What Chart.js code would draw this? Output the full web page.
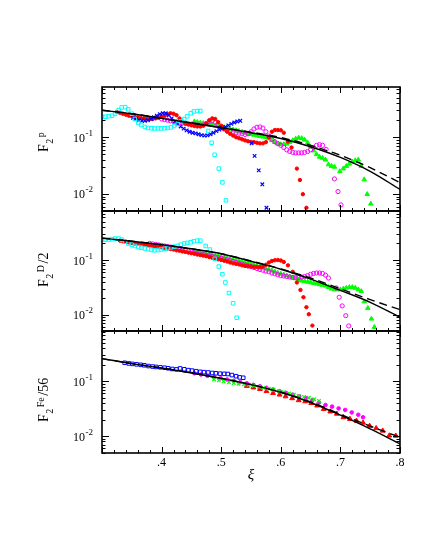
<!DOCTYPE html>
<html>
<head>
<meta charset="utf-8">
<script src="https://cdn.jsdelivr.net/npm/chart.js@4/dist/chart.umd.min.js"></script>
<style>
html,body{margin:0;padding:0;background:#fff;}
canvas{display:block;}
</style>
</head>
<body>
<canvas id="c" width="447" height="545"></canvas>
<script>
// ---------- tick labels ----------
const xTickValues = [0.4, 0.5, 0.6, 0.7, 0.8];
const xTickLabels = ['.4', '.5', '.6', '.7', '.8'];
const yTickValues = [0.1, 0.01];
const yTickExponents = ['-1', '-2'];
const panelLabels = [
  { main: 'F', sub: '2', sup: 'p', tail: '' },
  { main: 'F', sub: '2', sup: 'D', tail: '/2' },
  { main: 'F', sub: '2', sup: 'Fe', tail: '/56' }
];

// ---------- model curves (xi grid) ----------
const curveXi = [0.30, 0.35, 0.40, 0.45, 0.50, 0.55, 0.60, 0.65, 0.70, 0.75, 0.80];
const pSolid  = [0.30, 0.26, 0.215, 0.178, 0.147, 0.120, 0.095, 0.068, 0.044, 0.025, 0.012];
const pDashed = [0.30, 0.26, 0.215, 0.179, 0.149, 0.123, 0.099, 0.072, 0.048, 0.029, 0.0158];
const dSolid  = [0.25, 0.22, 0.19, 0.16, 0.13, 0.095, 0.068, 0.045, 0.028, 0.017, 0.0091];
const dDashed = [0.25, 0.22, 0.19, 0.16, 0.13, 0.096, 0.069, 0.047, 0.030, 0.019, 0.0125];
const feSolid  = [0.26, 0.21, 0.175, 0.142, 0.113, 0.087, 0.063, 0.041, 0.024, 0.0135, 0.0072];
const feDashed = [0.26, 0.21, 0.175, 0.142, 0.113, 0.087, 0.063, 0.042, 0.025, 0.0152, 0.0095];

// ---------- proton data [xi, F2] ----------
const pCyan = [[0.300,0.23],[0.306,0.23],[0.311,0.235],[0.317,0.24],[0.322,0.26],[0.328,0.30],[0.333,0.335],[0.339,0.34],[0.344,0.31],[0.350,0.26],[0.355,0.21],[0.361,0.18],[0.366,0.165],[0.372,0.152],[0.377,0.146],[0.383,0.144],[0.388,0.143],[0.394,0.143],[0.399,0.143],[0.405,0.144],[0.410,0.146],[0.416,0.149],[0.421,0.158],[0.427,0.172],[0.432,0.19],[0.438,0.21],[0.443,0.235],[0.449,0.265],[0.454,0.285],[0.460,0.29],[0.465,0.29],[0.478,0.129],[0.484,0.08],[0.489,0.049],[0.496,0.028],[0.502,0.016],[0.508,0.0077]];
const pBlue = [[0.352,0.22],[0.357,0.21],[0.362,0.20],[0.367,0.195],[0.372,0.195],[0.377,0.20],[0.382,0.21],[0.387,0.225],[0.392,0.24],[0.397,0.255],[0.402,0.265],[0.407,0.265],[0.412,0.245],[0.417,0.215],[0.422,0.19],[0.427,0.17],[0.432,0.155],[0.437,0.142],[0.442,0.132],[0.447,0.125],[0.452,0.12],[0.457,0.117],[0.462,0.113],[0.467,0.109],[0.472,0.107],[0.477,0.108],[0.482,0.113],[0.487,0.12],[0.492,0.128],[0.497,0.136],[0.502,0.144],[0.507,0.152],[0.512,0.162],[0.517,0.172],[0.522,0.182],[0.527,0.19],[0.532,0.195],[0.551,0.078],[0.556,0.047],[0.563,0.026],[0.569,0.0148],[0.576,0.0057]];
const pRed = [[0.325,0.28],[0.330,0.27],[0.335,0.26],[0.340,0.25],[0.345,0.24],[0.350,0.235],[0.355,0.23],[0.360,0.225],[0.365,0.22],[0.370,0.215],[0.375,0.213],[0.380,0.21],[0.385,0.21],[0.390,0.215],[0.395,0.22],[0.400,0.23],[0.405,0.24],[0.410,0.255],[0.415,0.265],[0.420,0.26],[0.425,0.245],[0.430,0.215],[0.435,0.19],[0.440,0.175],[0.445,0.168],[0.450,0.162],[0.455,0.158],[0.460,0.155],[0.465,0.155],[0.470,0.16],[0.475,0.175],[0.480,0.2],[0.485,0.215],[0.490,0.21],[0.495,0.185],[0.500,0.16],[0.505,0.14],[0.510,0.125],[0.515,0.115],[0.520,0.107],[0.525,0.10],[0.530,0.096],[0.535,0.092],[0.540,0.088],[0.545,0.085],[0.550,0.083],[0.555,0.082],[0.560,0.08],[0.565,0.078],[0.570,0.078],[0.575,0.082],[0.580,0.10],[0.585,0.125],[0.590,0.134],[0.595,0.134],[0.600,0.133],[0.605,0.12],[0.612,0.084],[0.618,0.066],[0.627,0.028],[0.632,0.0176],[0.637,0.0099],[0.643,0.0057]];
const pMagenta = [[0.400,0.21],[0.405,0.205],[0.410,0.20],[0.415,0.195],[0.420,0.19],[0.425,0.185],[0.430,0.18],[0.435,0.178],[0.440,0.175],[0.445,0.172],[0.450,0.17],[0.455,0.168],[0.460,0.165],[0.465,0.163],[0.470,0.165],[0.475,0.175],[0.480,0.19],[0.485,0.195],[0.490,0.185],[0.495,0.165],[0.500,0.15],[0.505,0.14],[0.510,0.132],[0.515,0.127],[0.520,0.123],[0.525,0.12],[0.530,0.118],[0.535,0.115],[0.540,0.112],[0.545,0.115],[0.550,0.125],[0.555,0.14],[0.560,0.15],[0.565,0.152],[0.570,0.145],[0.575,0.125],[0.580,0.105],[0.585,0.092],[0.590,0.083],[0.595,0.077],[0.600,0.072],[0.605,0.066],[0.610,0.06],[0.615,0.056],[0.620,0.054],[0.625,0.053],[0.630,0.053],[0.635,0.053],[0.640,0.054],[0.645,0.056],[0.650,0.06],[0.655,0.066],[0.660,0.072],[0.665,0.074],[0.670,0.072],[0.676,0.061],[0.690,0.0184],[0.696,0.011],[0.701,0.0064]];
const pGreen = [[0.455,0.19],[0.460,0.185],[0.465,0.18],[0.470,0.177],[0.475,0.174],[0.480,0.17],[0.485,0.165],[0.490,0.16],[0.495,0.157],[0.500,0.153],[0.505,0.15],[0.510,0.145],[0.515,0.14],[0.520,0.136],[0.525,0.132],[0.530,0.128],[0.535,0.124],[0.540,0.12],[0.545,0.116],[0.550,0.113],[0.555,0.11],[0.560,0.107],[0.565,0.104],[0.570,0.102],[0.575,0.10],[0.580,0.095],[0.585,0.088],[0.590,0.082],[0.595,0.077],[0.600,0.075],[0.605,0.075],[0.610,0.077],[0.615,0.082],[0.620,0.088],[0.625,0.094],[0.630,0.098],[0.635,0.096],[0.640,0.09],[0.645,0.08],[0.650,0.068],[0.655,0.058],[0.660,0.05],[0.665,0.045],[0.670,0.043],[0.675,0.04],[0.680,0.033],[0.685,0.031],[0.690,0.03],[0.699,0.025],[0.705,0.028],[0.710,0.031],[0.715,0.034],[0.720,0.037],[0.725,0.039],[0.730,0.04],[0.735,0.031],[0.740,0.018],[0.745,0.0099],[0.751,0.0067]];

// ---------- deuteron data ----------
const dCyan = [[0.300,0.235],[0.306,0.235],[0.311,0.235],[0.317,0.24],[0.322,0.245],[0.328,0.245],[0.333,0.235],[0.339,0.215],[0.344,0.20],[0.350,0.19],[0.355,0.18],[0.361,0.172],[0.366,0.168],[0.372,0.162],[0.377,0.158],[0.383,0.153],[0.388,0.15],[0.394,0.152],[0.399,0.155],[0.405,0.16],[0.410,0.165],[0.416,0.17],[0.421,0.175],[0.427,0.18],[0.432,0.19],[0.438,0.20],[0.443,0.205],[0.449,0.21],[0.454,0.22],[0.460,0.225],[0.465,0.225],[0.474,0.18],[0.481,0.155],[0.489,0.105],[0.496,0.076],[0.502,0.055],[0.507,0.039],[0.513,0.025],[0.520,0.0163],[0.526,0.0089]];
const dRed = [[0.330,0.225],[0.335,0.22],[0.340,0.215],[0.345,0.21],[0.350,0.205],[0.355,0.20],[0.360,0.197],[0.365,0.193],[0.370,0.19],[0.375,0.187],[0.380,0.183],[0.385,0.18],[0.390,0.176],[0.395,0.172],[0.400,0.17],[0.405,0.166],[0.410,0.162],[0.415,0.158],[0.420,0.155],[0.425,0.15],[0.430,0.147],[0.435,0.143],[0.440,0.14],[0.445,0.136],[0.450,0.133],[0.455,0.13],[0.460,0.126],[0.465,0.123],[0.470,0.12],[0.475,0.117],[0.480,0.113],[0.485,0.11],[0.490,0.106],[0.495,0.103],[0.500,0.10],[0.505,0.097],[0.510,0.094],[0.515,0.09],[0.520,0.087],[0.525,0.085],[0.530,0.083],[0.535,0.08],[0.540,0.078],[0.545,0.077],[0.550,0.076],[0.555,0.075],[0.560,0.075],[0.565,0.074],[0.570,0.076],[0.575,0.082],[0.580,0.09],[0.585,0.096],[0.590,0.099],[0.595,0.10],[0.600,0.098],[0.605,0.092],[0.612,0.08],[0.620,0.061],[0.627,0.039],[0.633,0.0285],[0.638,0.021],[0.643,0.0138],[0.647,0.0103],[0.653,0.0064]];
const dMagenta = [[0.380,0.20],[0.385,0.196],[0.390,0.192],[0.395,0.188],[0.400,0.184],[0.405,0.18],[0.410,0.176],[0.415,0.172],[0.420,0.168],[0.425,0.164],[0.430,0.16],[0.435,0.156],[0.440,0.15],[0.445,0.145],[0.450,0.14],[0.455,0.135],[0.460,0.13],[0.465,0.128],[0.470,0.125],[0.475,0.122],[0.480,0.119],[0.485,0.116],[0.490,0.113],[0.495,0.11],[0.500,0.107],[0.505,0.104],[0.510,0.10],[0.515,0.097],[0.520,0.094],[0.525,0.09],[0.530,0.087],[0.535,0.084],[0.540,0.081],[0.545,0.078],[0.550,0.076],[0.555,0.073],[0.560,0.07],[0.565,0.067],[0.570,0.065],[0.575,0.063],[0.580,0.061],[0.585,0.058],[0.590,0.056],[0.595,0.054],[0.600,0.052],[0.605,0.051],[0.610,0.05],[0.615,0.049],[0.620,0.048],[0.625,0.048],[0.630,0.048],[0.635,0.049],[0.640,0.05],[0.645,0.052],[0.650,0.055],[0.655,0.057],[0.660,0.058],[0.665,0.058],[0.670,0.057],[0.675,0.053],[0.680,0.047],[0.693,0.031],[0.698,0.021],[0.703,0.0146],[0.709,0.0097],[0.714,0.0063]];
const dGreen = [[0.455,0.143],[0.460,0.14],[0.465,0.137],[0.470,0.134],[0.475,0.13],[0.480,0.127],[0.485,0.124],[0.490,0.12],[0.495,0.117],[0.500,0.114],[0.505,0.111],[0.510,0.108],[0.515,0.105],[0.520,0.102],[0.525,0.099],[0.530,0.096],[0.535,0.093],[0.540,0.09],[0.545,0.088],[0.550,0.085],[0.555,0.082],[0.560,0.079],[0.565,0.076],[0.570,0.073],[0.575,0.07],[0.580,0.067],[0.585,0.064],[0.590,0.061],[0.595,0.058],[0.600,0.056],[0.605,0.054],[0.610,0.052],[0.615,0.05],[0.620,0.048],[0.625,0.046],[0.630,0.044],[0.635,0.042],[0.640,0.041],[0.645,0.04],[0.650,0.039],[0.655,0.038],[0.660,0.037],[0.665,0.036],[0.670,0.035],[0.675,0.034],[0.680,0.032],[0.685,0.03],[0.690,0.029],[0.695,0.029],[0.700,0.029],[0.705,0.03],[0.710,0.031],[0.715,0.032],[0.720,0.032],[0.725,0.031],[0.730,0.029],[0.735,0.027],[0.740,0.0175],[0.746,0.0133],[0.752,0.0085],[0.757,0.006]];

// ---------- iron data ----------
const feBlue = [[0.338,0.218],[0.345,0.212],[0.351,0.208],[0.358,0.204],[0.365,0.20],[0.371,0.196],[0.378,0.19],[0.385,0.186],[0.391,0.183],[0.398,0.18],[0.405,0.177],[0.411,0.173],[0.418,0.168],[0.425,0.165],[0.431,0.172],[0.438,0.166],[0.445,0.16],[0.451,0.157],[0.458,0.153],[0.465,0.149],[0.471,0.147],[0.478,0.145],[0.485,0.142],[0.491,0.14],[0.498,0.138],[0.505,0.137],[0.511,0.136],[0.518,0.13],[0.525,0.124],[0.531,0.118],[0.537,0.116]];
const feGreen = [[0.488,0.108],[0.496,0.104],[0.504,0.10],[0.513,0.096],[0.521,0.093],[0.529,0.09],[0.538,0.088],[0.546,0.085],[0.555,0.083],[0.563,0.079],[0.571,0.076],[0.580,0.073],[0.588,0.07],[0.597,0.066],[0.605,0.063],[0.614,0.06],[0.622,0.057],[0.630,0.054],[0.639,0.052],[0.647,0.05],[0.656,0.047],[0.664,0.044]];
const feMagenta = [[0.455,0.14],[0.466,0.133],[0.477,0.126],[0.488,0.12],[0.499,0.114],[0.510,0.108],[0.521,0.102],[0.532,0.097],[0.543,0.092],[0.554,0.086],[0.565,0.081],[0.576,0.076],[0.587,0.071],[0.598,0.066],[0.609,0.061],[0.620,0.057],[0.631,0.053],[0.642,0.049],[0.653,0.045],[0.664,0.041],[0.675,0.037],[0.686,0.0345],[0.697,0.032],[0.708,0.03],[0.719,0.027],[0.730,0.0245],[0.738,0.022]];
const feRed = [[0.543,0.082],[0.554,0.077],[0.565,0.072],[0.576,0.066],[0.587,0.061],[0.598,0.057],[0.608,0.053],[0.619,0.049],[0.630,0.045],[0.641,0.043],[0.651,0.04],[0.661,0.036],[0.672,0.031],[0.683,0.028],[0.694,0.0255],[0.705,0.022],[0.716,0.0205],[0.727,0.019],[0.738,0.0175],[0.749,0.0153],[0.760,0.0139],[0.771,0.0125],[0.782,0.0102],[0.793,0.0101]];

// ---------- build datasets ----------
const CY = '#00ffff', BL = '#0000ff', RD = '#ff0000', MG = '#ff00ff', GR = '#00ff00';
const datasets = [];
function addPts(arr, axis, style, color, filled, r, bw) {
  datasets.push({
    type: 'scatter', yAxisID: axis,
    data: arr.map(p => ({ x: p[0], y: p[1] })),
    pointStyle: style, pointRadius: r, borderColor: color,
    backgroundColor: filled ? color : 'rgba(0,0,0,0)', borderWidth: bw,
    showLine: false, order: 2
  });
}
function addCurve(ys, axis, dash) {
  datasets.push({
    type: 'line', yAxisID: axis,
    data: curveXi.map((x, i) => ({ x: x, y: ys[i] })),
    borderColor: '#000', borderWidth: 1.4, borderDash: dash,
    pointRadius: 0, cubicInterpolationMode: 'monotone', fill: false, order: 1
  });
}
addPts(pCyan, 'yP', 'rect', CY, false, 2.5, 1);
addPts(pBlue, 'yP', 'crossRot', BL, false, 2.5, 1.2);
addPts(pRed, 'yP', 'circle', RD, true, 1.7, 1);
addPts(pMagenta, 'yP', 'circle', MG, false, 2.1, 1);
addPts(pGreen, 'yP', 'triangle', GR, true, 2.6, 1);
addCurve(pSolid, 'yP', []);
addCurve(pDashed, 'yP', [8, 5]);

addPts(dCyan, 'yD', 'rect', CY, false, 2.5, 1);
addPts(dRed, 'yD', 'circle', RD, true, 1.7, 1);
addPts(dMagenta, 'yD', 'circle', MG, false, 2.1, 1);
addPts(dGreen, 'yD', 'triangle', GR, true, 2.6, 1);
addCurve(dSolid, 'yD', []);
addCurve(dDashed, 'yD', [8, 5]);

addPts(feBlue, 'yFe', 'rect', BL, false, 2.5, 1);
addPts(feGreen, 'yFe', 'crossRot', GR, false, 2.5, 1.2);
addPts(feMagenta, 'yFe', 'circle', MG, true, 1.8, 1);
addPts(feRed, 'yFe', 'triangle', RD, true, 2.8, 1);
addCurve(feSolid, 'yFe', []);
addCurve(feDashed, 'yFe', [8, 5]);

const SERIF = '"Liberation Serif", "DejaVu Serif", serif';
const panelIds = ['yP', 'yD', 'yFe'];

function yAxis(min, max, weight) {
  return {
    type: 'logarithmic', position: 'left', stack: 'panels', stackWeight: weight,
    min: min, max: max, offset: false,
    grid: { display: false, drawTicks: false }, border: { display: false },
    ticks: { display: false },
    afterFit: s => { s.width = 0; }
  };
}

const framePlugin = {
  id: 'frame',
  afterDraw(chart) {
    const ctx = chart.ctx, ca = chart.chartArea, xs = chart.scales.x;
    ctx.save();
    ctx.strokeStyle = '#000';
    ctx.fillStyle = '#000';
    panelIds.forEach((id, i) => {
      const s = chart.scales[id];
      const top = s.top, bot = s.bottom;
      ctx.lineWidth = 1;
      ctx.beginPath();
      for (let k = 15; k <= 40; k++) {
        const px = Math.round(xs.getPixelForValue(k / 50)) + 0.5;
        const len = (k % 5 === 0) ? 6 : 3;
        ctx.moveTo(px, bot); ctx.lineTo(px, bot - len);
        ctx.moveTo(px, top); ctx.lineTo(px, top + len);
      }
      for (let d = -3; d <= 0; d++) {
        for (let m = 1; m <= 9; m++) {
          const v = m * Math.pow(10, d);
          if (v < s.min || v > s.max) continue;
          const py = Math.round(s.getPixelForValue(v)) + 0.5;
          const len = (m === 1) ? 7 : 3.5;
          ctx.moveTo(ca.left, py); ctx.lineTo(ca.left + len, py);
          ctx.moveTo(ca.right, py); ctx.lineTo(ca.right - len, py);
        }
      }
      ctx.stroke();
      ctx.lineWidth = 1.6;
      ctx.strokeRect(ca.left, top, ca.right - ca.left, bot - top);

      // y tick labels 10^-n
      yTickValues.forEach((v, j) => {
        const py = s.getPixelForValue(v);
        ctx.font = '12px ' + SERIF;
        const w1 = ctx.measureText('10').width;
        ctx.font = '9px ' + SERIF;
        const w2 = ctx.measureText(yTickExponents[j]).width;
        const right = ca.left - 9;
        const x0 = right - w2 - w1 - 0.5;
        ctx.font = '12px ' + SERIF;
        ctx.textAlign = 'left'; ctx.textBaseline = 'alphabetic';
        ctx.fillText('10', x0, py + 4.5);
        ctx.font = '9px ' + SERIF;
        ctx.fillText(yTickExponents[j], x0 + w1 + 0.5, py - 1.5);
      });

      // rotated panel label
      const lab = panelLabels[i];
      const startY = [152, 287, 422][i];
      ctx.save();
      ctx.translate(48, startY);
      ctx.rotate(-Math.PI / 2);
      ctx.textAlign = 'left'; ctx.textBaseline = 'alphabetic';
      ctx.font = '14px ' + SERIF;
      ctx.fillText(lab.main, 0, 0);
      let x = ctx.measureText(lab.main).width + 0.5;
      ctx.font = '10px ' + SERIF;
      ctx.fillText(lab.sub, x, 5);
      x += ctx.measureText(lab.sub).width + 1.5;
      ctx.fillText(lab.sup, x, -4);
      x += ctx.measureText(lab.sup).width + 1.5;
      if (lab.tail) {
        ctx.font = '14px ' + SERIF;
        ctx.fillText(lab.tail, x, 0);
      }
      ctx.restore();
    });
    ctx.restore();
  }
};

new Chart(document.getElementById('c'), {
  type: 'scatter',
  data: { datasets: datasets },
  options: {
    responsive: false, animation: false, devicePixelRatio: 1, events: [],
    layout: { padding: { left: 102, right: 47, top: 87, bottom: 61 } },
    plugins: { legend: { display: false }, tooltip: { enabled: false } },
    scales: {
      x: {
        type: 'linear', position: 'bottom', min: 0.3, max: 0.8,
        grid: { display: false, drawTicks: false }, border: { display: false },
        ticks: {
          stepSize: 0.1, padding: 3, color: '#000', maxRotation: 0, autoSkip: false,
          font: { family: SERIF, size: 12 },
          callback: v => {
            const idx = xTickValues.findIndex(t => Math.abs(t - v) < 1e-6);
            return idx >= 0 ? xTickLabels[idx] : '';
          }
        },
        title: { display: true, text: 'ξ', color: '#000', padding: { top: 0, bottom: 0 },
                 font: { family: SERIF, size: 15, style: 'italic' } },
        afterFit: s => { s.height = 31; }
      },
      // stacked panels: listed bottom-to-top
      yFe: yAxis(0.0049, 0.83, 122),
      yD: yAxis(0.0051, 0.78, 120),
      yP: yAxis(0.005, 0.77, 124)
    }
  },
  plugins: [framePlugin]
});
</script>
</body>
</html>
